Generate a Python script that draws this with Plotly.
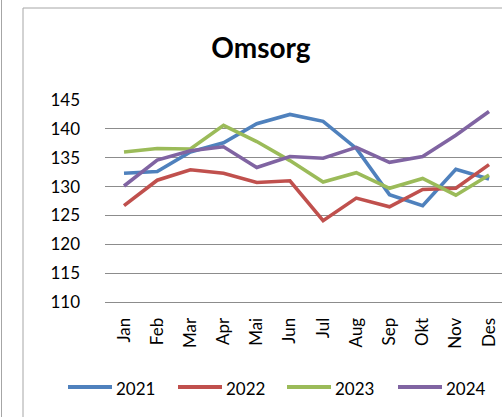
import plotly.graph_objects as go

months = ["Jan", "Feb", "Mar", "Apr", "Mai", "Jun", "Jul", "Aug", "Sep", "Okt", "Nov", "Des"]
years = ["2021", "2022", "2023", "2024"]
v2021 = [132.3, 132.6, 136.0, 137.6, 140.9, 142.5, 141.3, 136.6, 128.6, 126.7, 133.0, 131.3]
v2022 = [126.7, 131.1, 132.9, 132.3, 130.7, 131.0, 124.1, 128.0, 126.5, 129.5, 129.7, 133.8]
v2023 = [136.0, 136.6, 136.5, 140.6, 137.8, 134.5, 130.8, 132.4, 129.7, 131.4, 128.5, 132.0]
v2024 = [130.1, 134.6, 136.2, 136.9, 133.3, 135.2, 134.9, 136.8, 134.2, 135.2, 138.9, 143.0]
series = [v2021, v2022, v2023, v2024]
colors = ["#4F81BD", "#C0504D", "#9BBB59", "#8064A2"]
yticks = [110, 115, 120, 125, 130, 135, 140, 145]

W, H = 502, 417
L, R, T, B = 105, 0, 100, 115
PW, PH = W - L - R, H - T - B
FONT = "Lato"

def px(x):
    return (x - L) / PW

def py(y):
    return (H - B - y) / PH

fig = go.Figure()
for name, vals, c in zip(years, series, colors):
    fig.add_trace(go.Scatter(x=months, y=vals, mode="lines", name=name,
                             line=dict(color=c, width=3.6), showlegend=False))

shapes = [
    dict(type="line", xref="paper", yref="paper", x0=px(23), x1=px(23), y0=py(8), y1=py(H),
         line=dict(color="#A6A6A6", width=1)),
    dict(type="line", xref="paper", yref="paper", x0=px(23), x1=px(W), y0=py(8), y1=py(8),
         line=dict(color="#A6A6A6", width=1)),
    dict(type="line", xref="paper", yref="paper", x0=px(1.5), x1=px(1.5), y0=py(0), y1=py(H),
         line=dict(color="#A6A6A6", width=1)),
]
annotations = []
leg_x = [68, 178, 287, 398]
for name, c, lx in zip(years, colors, leg_x):
    shapes.append(dict(type="line", xref="paper", yref="paper", x0=px(lx), x1=px(lx + 44),
                       y0=py(387), y1=py(387), line=dict(color=c, width=4)))
    annotations.append(dict(text=name, xref="paper", yref="paper", x=px(lx + 46), y=py(388),
                            xanchor="left", yanchor="middle", showarrow=False,
                            font=dict(family=FONT, size=17, color="#000")))

fig.update_layout(
    width=W, height=H,
    margin=dict(l=L, r=R, t=T, b=B),
    paper_bgcolor="white", plot_bgcolor="white",
    title=dict(text="<b>Omsorg</b>", x=261 / W, xref="container", xanchor="center",
               y=1 - 48 / H, yref="container", yanchor="middle",
               font=dict(family=FONT, size=28, color="#000")),
    shapes=shapes, annotations=annotations,
    xaxis=dict(range=[-0.573, 11.391], tickangle=-90, showgrid=False,
               showline=True, linecolor="#8C8C8C", linewidth=1,
               ticks="", ticklabelstandoff=8,
               tickfont=dict(family=FONT, size=17, color="#000")),
    yaxis=dict(range=[110, 145], tickvals=yticks, showgrid=True, gridcolor="#8C8C8C", gridwidth=1,
               zeroline=False, showline=False, ticks="", ticklabelstandoff=24,
               tickfont=dict(family=FONT, size=17, color="#000")),
)
fig.write_html("out.html", config={"displayModeBar": False},
               post_script="document.body.style.margin='0';document.body.style.overflow='hidden';")
